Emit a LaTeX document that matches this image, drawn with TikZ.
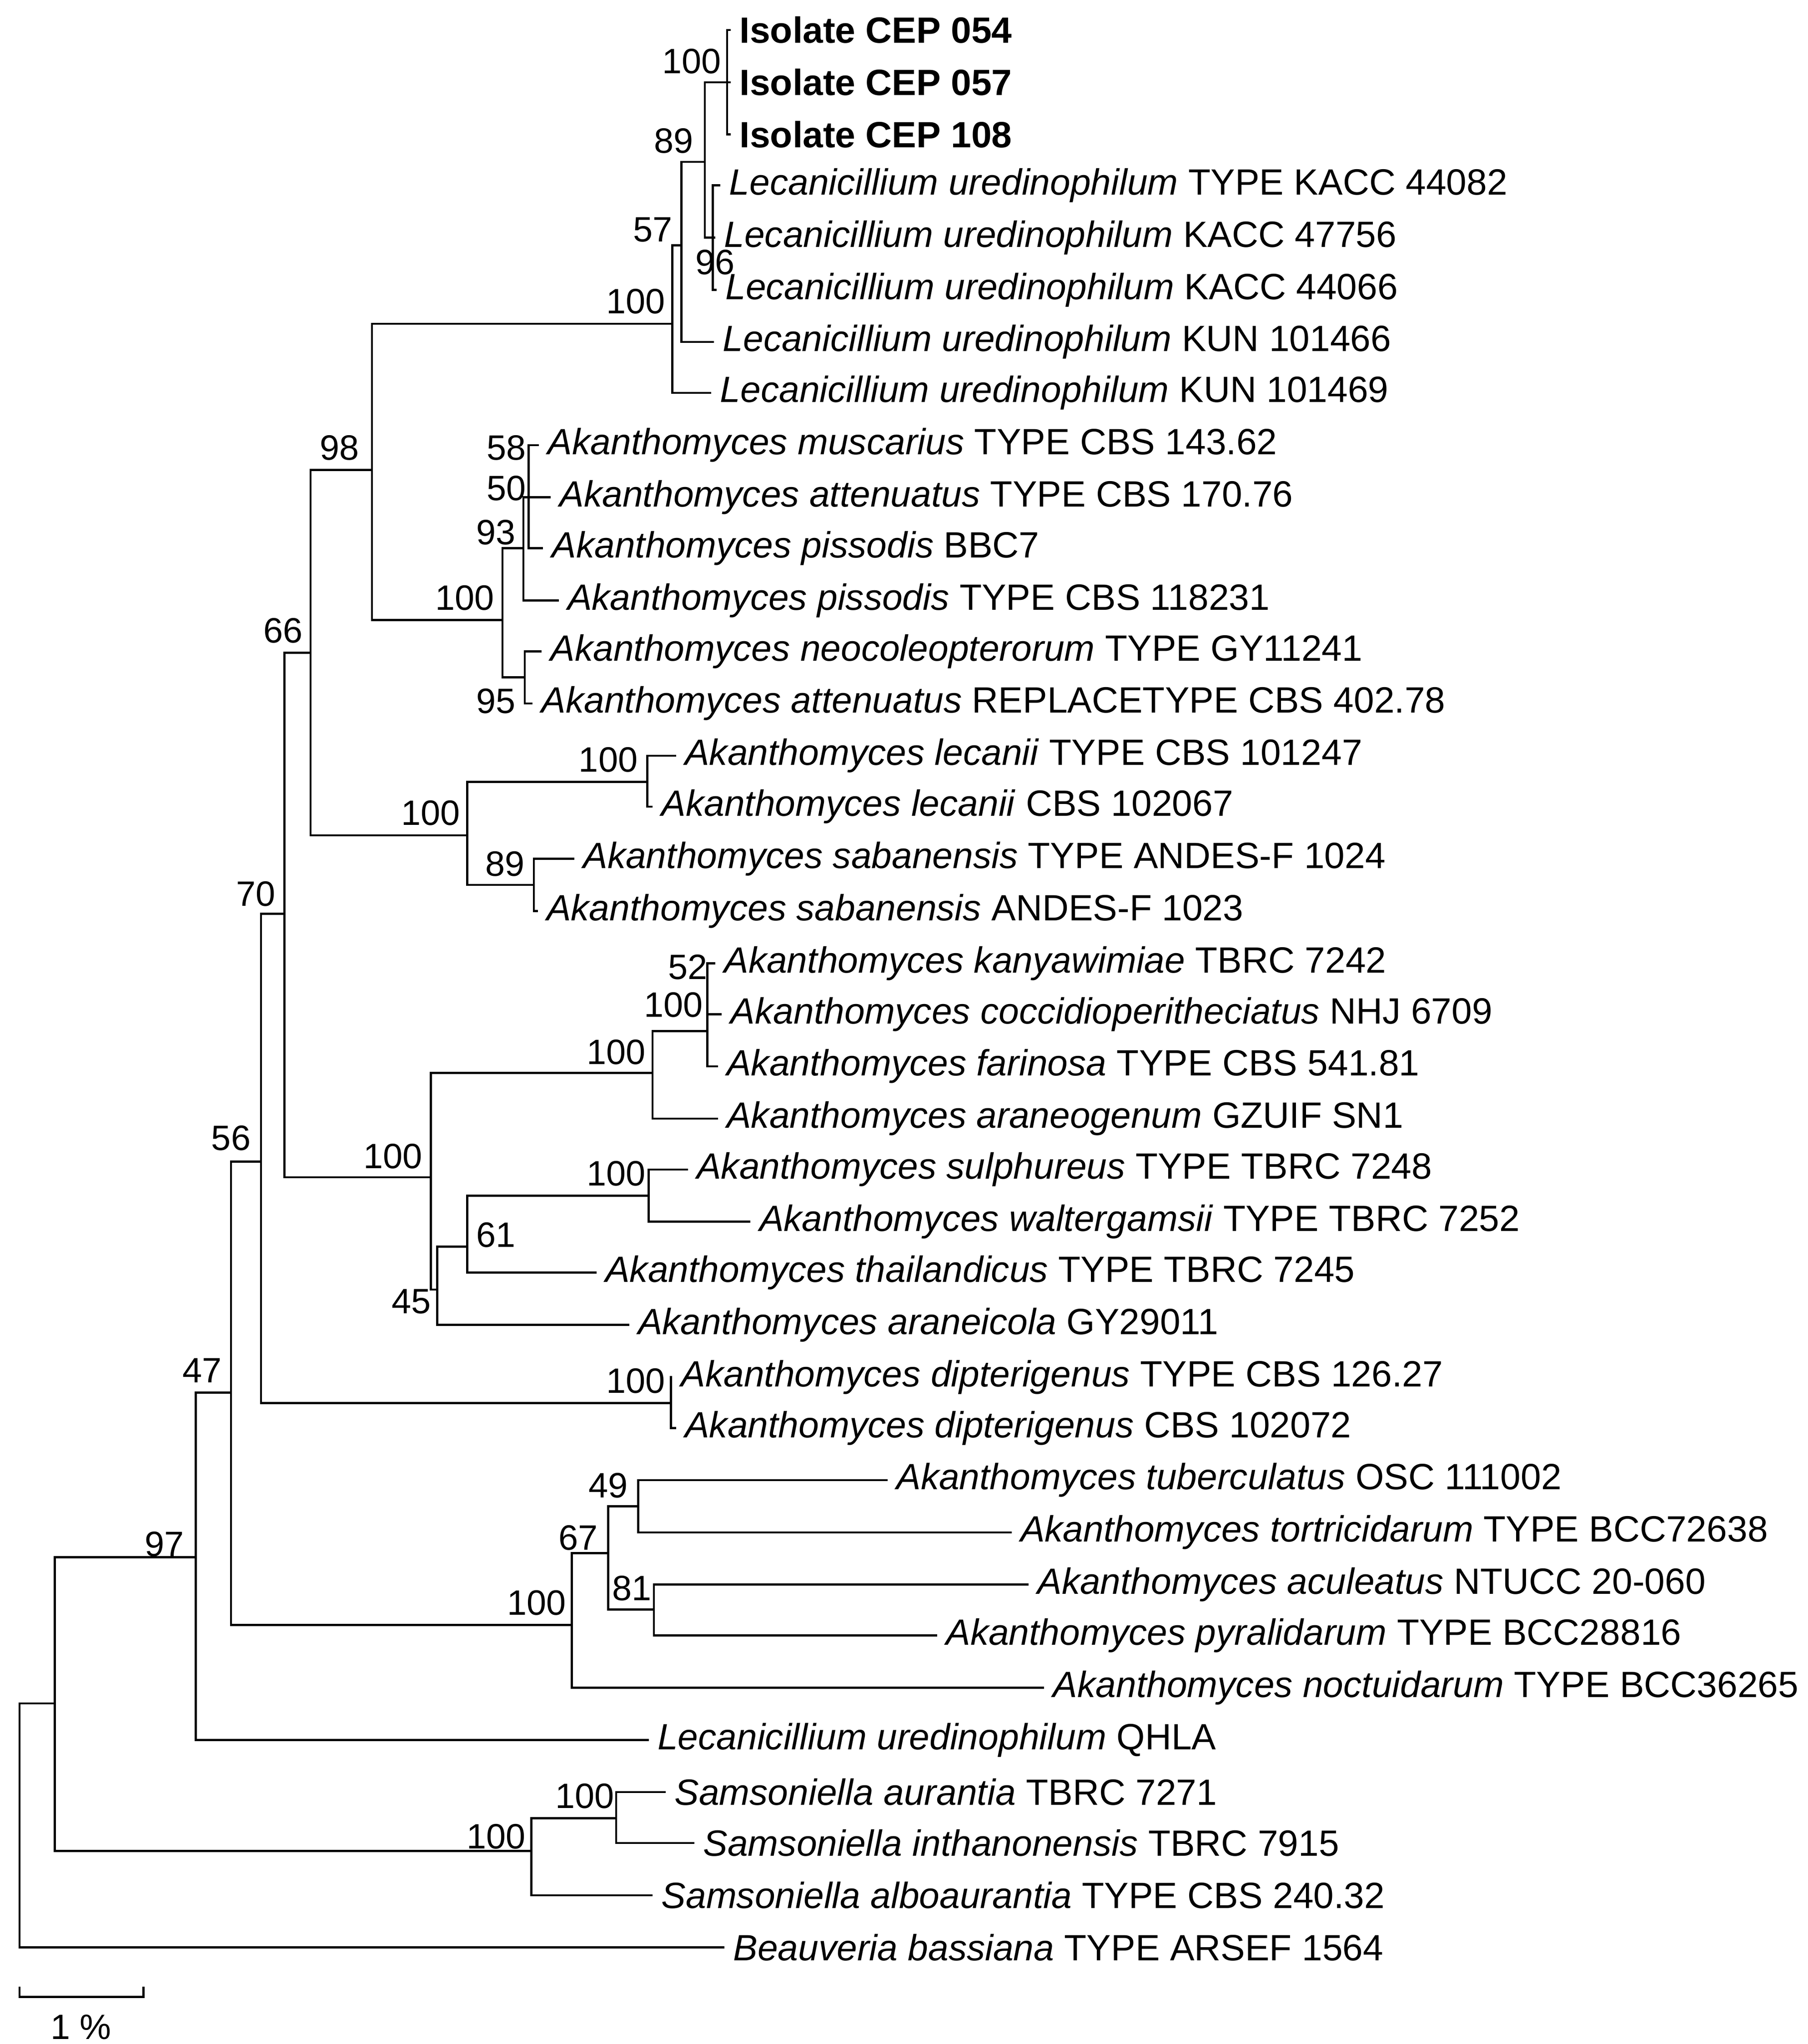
\documentclass[tikz,border=0pt]{standalone}
\usepackage{fontspec}
\setmainfont{Liberation Sans}
\begin{document}
\begin{tikzpicture}[x=1pt,y=-1pt,line width=1.6pt,
  lf/.style={anchor=west,inner xsep=6pt,inner ysep=0pt,font=\fontsize{28}{32}\selectfont},
  bs/.style={font=\fontsize{27}{30}\selectfont,inner sep=0pt}]
\useasboundingbox[fill=white] (0,0) rectangle (1385,1566);
\newcommand\lv[4]{\node[lf] (#1) at (#2,#3) {#4};}
\newcommand\cn[3]{\coordinate (#1) at (#2,#3);}
% leaves
\lv{l1}{560}{23}{\textbf{Isolate CEP 054}}
\lv{l2}{560}{63}{\textbf{Isolate CEP 057}}
\lv{l3}{560}{103}{\textbf{Isolate CEP 108}}
\lv{l4}{552}{142}{\textit{Lecanicillium uredinophilum} TYPE KACC 44082}
\lv{l5}{548}{182}{\textit{Lecanicillium uredinophilum} KACC 47756}
\lv{l6}{549}{222}{\textit{Lecanicillium uredinophilum} KACC 44066}
\lv{l7}{547}{262}{\textit{Lecanicillium uredinophilum} KUN 101466}
\lv{l8}{545}{301}{\textit{Lecanicillium uredinophilum} KUN 101469}
\lv{l9}{413}{341}{\textit{Akanthomyces muscarius} TYPE CBS 143.62}
\lv{l10}{422}{381}{\textit{Akanthomyces attenuatus} TYPE CBS 170.76}
\lv{l11}{416}{420}{\textit{Akanthomyces pissodis} BBC7}
\lv{l12}{428}{460}{\textit{Akanthomyces pissodis} TYPE CBS 118231}
\lv{l13}{415}{499}{\textit{Akanthomyces neocoleopterorum} TYPE GY11241}
\lv{l14}{408}{539}{\textit{Akanthomyces attenuatus} REPLACETYPE CBS 402.78}
\lv{l15}{518}{579}{\textit{Akanthomyces lecanii} TYPE CBS 101247}
\lv{l16}{500}{618}{\textit{Akanthomyces lecanii} CBS 102067}
\lv{l17}{440}{658}{\textit{Akanthomyces sabanensis} TYPE ANDES-F 1024}
\lv{l18}{412}{698}{\textit{Akanthomyces sabanensis} ANDES-F 1023}
\lv{l19}{548}{738}{\textit{Akanthomyces kanyawimiae} TBRC 7242}
\lv{l20}{553}{777}{\textit{Akanthomyces coccidioperitheciatus} NHJ 6709}
\lv{l21}{550}{817}{\textit{Akanthomyces farinosa} TYPE CBS 541.81}
\lv{l22}{550}{857}{\textit{Akanthomyces araneogenum} GZUIF SN1}
\lv{l23}{527}{896}{\textit{Akanthomyces sulphureus} TYPE TBRC 7248}
\lv{l24}{575}{936}{\textit{Akanthomyces waltergamsii} TYPE TBRC 7252}
\lv{l25}{457}{975}{\textit{Akanthomyces thailandicus} TYPE TBRC 7245}
\lv{l26}{482}{1015}{\textit{Akanthomyces araneicola} GY29011}
\lv{l27}{515}{1055}{\textit{Akanthomyces dipterigenus} TYPE CBS 126.27}
\lv{l28}{518}{1094}{\textit{Akanthomyces dipterigenus} CBS 102072}
\lv{l29}{680}{1134}{\textit{Akanthomyces tuberculatus} OSC 111002}
\lv{l30}{775}{1174}{\textit{Akanthomyces tortricidarum} TYPE BCC72638}
\lv{l31}{788}{1214}{\textit{Akanthomyces aculeatus} NTUCC 20-060}
\lv{l32}{718}{1253}{\textit{Akanthomyces pyralidarum} TYPE BCC28816}
\lv{l33}{800}{1293}{\textit{Akanthomyces noctuidarum} TYPE BCC36265}
\lv{l34}{497}{1333}{\textit{Lecanicillium uredinophilum} QHLA}
\lv{l35}{510}{1373}{\textit{Samsoniella aurantia} TBRC 7271}
\lv{l36}{532}{1412}{\textit{Samsoniella inthanonensis} TBRC 7915}
\lv{l37}{500}{1452}{\textit{Samsoniella alboaurantia} TYPE CBS 240.32}
\lv{l38}{555}{1492}{\textit{Beauveria bassiana} TYPE ARSEF 1564}
% internal nodes
\cn{root}{15}{1400}
\cn{n97}{42}{1305}
\cn{s100}{407}{1418}
\cn{s2}{472}{1393}
\cn{n47}{150}{1193}
\cn{n56}{177}{1067}
\cn{n100b}{438}{1245}
\cn{n67}{466}{1190}
\cn{n49}{489}{1154}
\cn{n81}{501}{1233}
\cn{n70}{200}{890}
\cn{nd}{514}{1075}
\cn{n66}{218}{700}
\cn{n98}{238}{500}
\cn{n285}{285}{360}
\cn{n515}{515}{248}
\cn{n522}{522}{188}
\cn{n540}{540}{124}
\cn{n557}{557}{63}
\cn{n546}{546}{182}
\cn{n385}{385}{475}
\cn{n401}{401}{420}
\cn{n405}{405}{381}
\cn{n402}{402}{519}
\cn{n358}{358}{640}
\cn{n496}{496}{599}
\cn{n409}{409}{678}
\cn{n330}{330}{902}
\cn{n500}{500}{822}
\cn{n542}{542}{790}
\cn{n335}{335}{988}
\cn{n61}{358}{955}
\cn{n497}{497}{916}
% edges
\newcommand\ed[2]{\draw (#1) |- (#2);}
\ed{root}{l38}\ed{root}{n97}
\ed{n97}{n47}\ed{n97}{s100}
\ed{s100}{s2}\ed{s100}{l37}\ed{s2}{l35}\ed{s2}{l36}
\ed{n47}{n56}\ed{n47}{l34}
\ed{n56}{n70}\ed{n56}{n100b}
\ed{n100b}{n67}\ed{n100b}{l33}
\ed{n67}{n49}\ed{n67}{n81}
\ed{n49}{l29}\ed{n49}{l30}\ed{n81}{l31}\ed{n81}{l32}
\ed{n70}{n66}\ed{n70}{nd}\ed{nd}{l27}\ed{nd}{l28}
\ed{n66}{n98}\ed{n66}{n330}
\ed{n98}{n285}\ed{n98}{n358}
\ed{n285}{n515}\ed{n285}{n385}
\ed{n515}{n522}\ed{n515}{l8}
\ed{n522}{n540}\ed{n522}{l7}
\ed{n540}{n557}\ed{n540}{n546}
\ed{n557}{l1}\ed{n557}{l2}\ed{n557}{l3}
\ed{n546}{l4}\ed{n546}{l5}\ed{n546}{l6}
\ed{n385}{n401}\ed{n385}{n402}
\ed{n401}{n405}\ed{n401}{l12}
\ed{n405}{l9}\ed{n405}{l10}\ed{n405}{l11}
\ed{n402}{l13}\ed{n402}{l14}
\ed{n358}{n496}\ed{n358}{n409}
\ed{n496}{l15}\ed{n496}{l16}\ed{n409}{l17}\ed{n409}{l18}
\ed{n330}{n500}\ed{n330}{n335}
\ed{n500}{n542}\ed{n500}{l22}
\ed{n542}{l19}\ed{n542}{l20}\ed{n542}{l21}
\ed{n335}{n61}\ed{n335}{l26}
\ed{n61}{n497}\ed{n61}{l25}
\ed{n497}{l23}\ed{n497}{l24}
% bootstrap labels
\foreach \t/\x/\y/\n in {100/530/47/a,89/516/108/b,57/500/176/c,96/548/201/d,100/487/231/e,98/260/343/f,58/388/343/g,50/388/374/h,93/380/408/i,100/356/458/j,95/380/537/k,66/217/483/m,100/466/582/o,100/330/623/p,89/387/662/q,70/196/685/r,52/527/741/s,100/516/770/t,100/472/806/u,100/301/886/v,100/472/899/w,61/380/946/x,45/315/997/y,56/177/872/z,100/487/1058/aa,47/155/1050/ab,49/466/1138/ac,67/443/1178/ad,81/484/1217/ae,100/411/1228/af,97/126/1183/ag,100/448/1376/ah,100/380/1407/ai}
  \node[bs] (b\n) at (\x,\y) {\t};
% scale bar
\coordinate (sa) at (15,1530); \coordinate (sb) at (110,1530);
\draw (sa) ++(0,-8) -- (sa) -- (sb) -- ++(0,-8);
\node[bs] (scale) at (62,1553) {1 \%};
\end{tikzpicture}
\end{document}
